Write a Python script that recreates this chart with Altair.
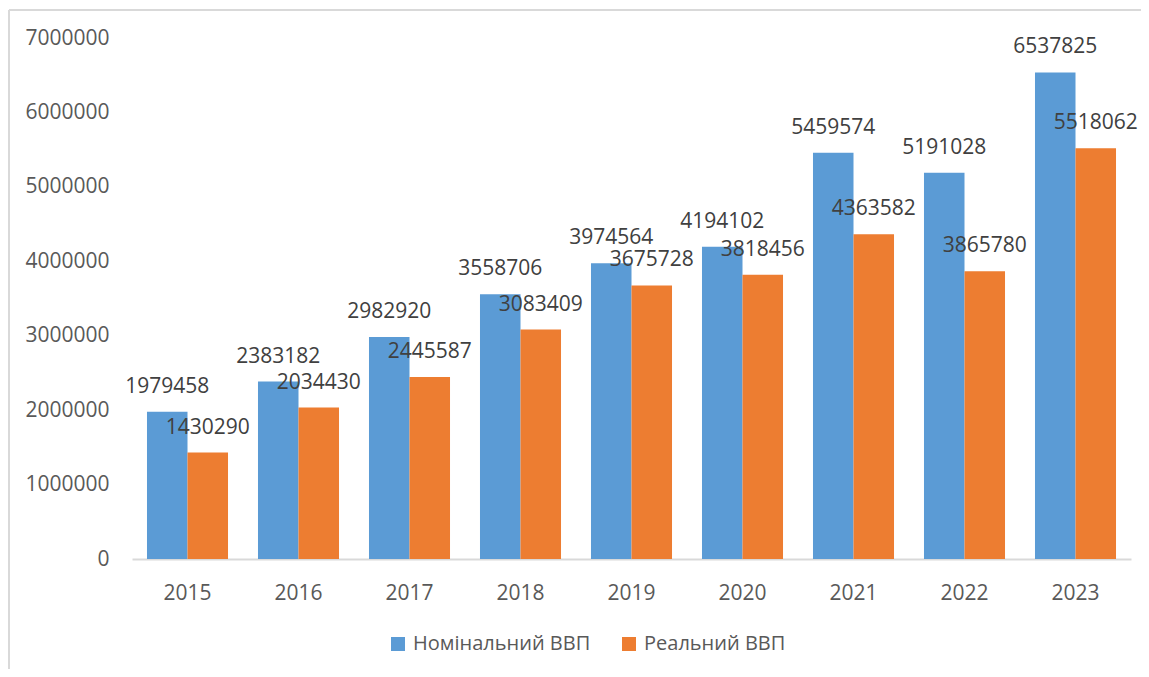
import altair as alt
import pandas as pd

years = ["2015", "2016", "2017", "2018", "2019", "2020", "2021", "2022", "2023"]
nominal = [1979458, 2383182, 2982920, 3558706, 3974564, 4194102, 5459574, 5191028, 6537825]
real = [1430290, 2034430, 2445587, 3083409, 3675728, 3818456, 4363582, 3865780, 5518062]
series_names = ["Номінальний ВВП", "Реальний ВВП"]
colors = ["#5B9BD5", "#ED7D31"]
y_ticks = [0, 1000000, 2000000, 3000000, 4000000, 5000000, 6000000, 7000000]

rows = []
for i, yr in enumerate(years):
    rows.append({"year": yr, "series": series_names[0], "value": nominal[i]})
    rows.append({"year": yr, "series": series_names[1], "value": real[i]})
df = pd.DataFrame(rows)

FONT = "Open Sans"

x_enc = alt.X("year:N", sort=years, title=None,
              scale=alt.Scale(paddingInner=0.27, paddingOuter=0.135),
              axis=alt.Axis(labelAngle=0, ticks=False, domainColor="#D9D9D9", domainWidth=2,
                            labelFontSize=21, labelColor="#595959", labelFont=FONT,
                            labelPadding=23, grid=False))
y_enc = alt.Y("value:Q", title=None,
              scale=alt.Scale(domain=[0, 7000000], nice=False),
              axis=alt.Axis(values=y_ticks, format="d", domain=False, ticks=False, grid=False,
                            labelFontSize=21, labelColor="#595959", labelFont=FONT,
                            labelPadding=23))
color_enc = alt.Color("series:N", sort=series_names,
                      scale=alt.Scale(domain=series_names, range=colors),
                      legend=alt.Legend(title=None, orient="none", direction="horizontal",
                                        legendX=256, legendY=596, symbolType="square",
                                        symbolSize=196, symbolStrokeWidth=0,
                                        labelFontSize=20, labelColor="#595959", labelFont=FONT,
                                        columnPadding=28, labelOffset=5, labelLimit=400))
xoff = alt.XOffset("series:N", sort=series_names)

base = alt.Chart(df)
bars = base.mark_bar(strokeWidth=0).encode(x=x_enc, xOffset=xoff, y=y_enc, color=color_enc)
labels = base.mark_text(baseline="middle", align="center", dy=-25, fontSize=21,
                        font=FONT, color="#404040").encode(
    x=alt.X("year:N", sort=years), xOffset=xoff, y="value:Q",
    text=alt.Text("value:Q", format="d"))

frame_top = alt.Chart(df).mark_rule(color="#D9D9D9", strokeWidth=2).encode(
    x=alt.value(-123), x2=alt.value(1030), y=alt.value(-28))
frame_left = alt.Chart(df).mark_rule(color="#D9D9D9", strokeWidth=2).encode(
    x=alt.value(-123), y=alt.value(-28), y2=alt.value(700))

chart = alt.layer(frame_top, frame_left, bars, labels).properties(
    width=999, height=521,
    autosize=alt.AutoSizeParams(type="none"),
    padding={"left": 124, "top": 30, "right": 10, "bottom": 110},
    background="white",
).configure_view(stroke=None)

chart.save("out.html", embed_options={"renderer": "svg", "actions": False})
